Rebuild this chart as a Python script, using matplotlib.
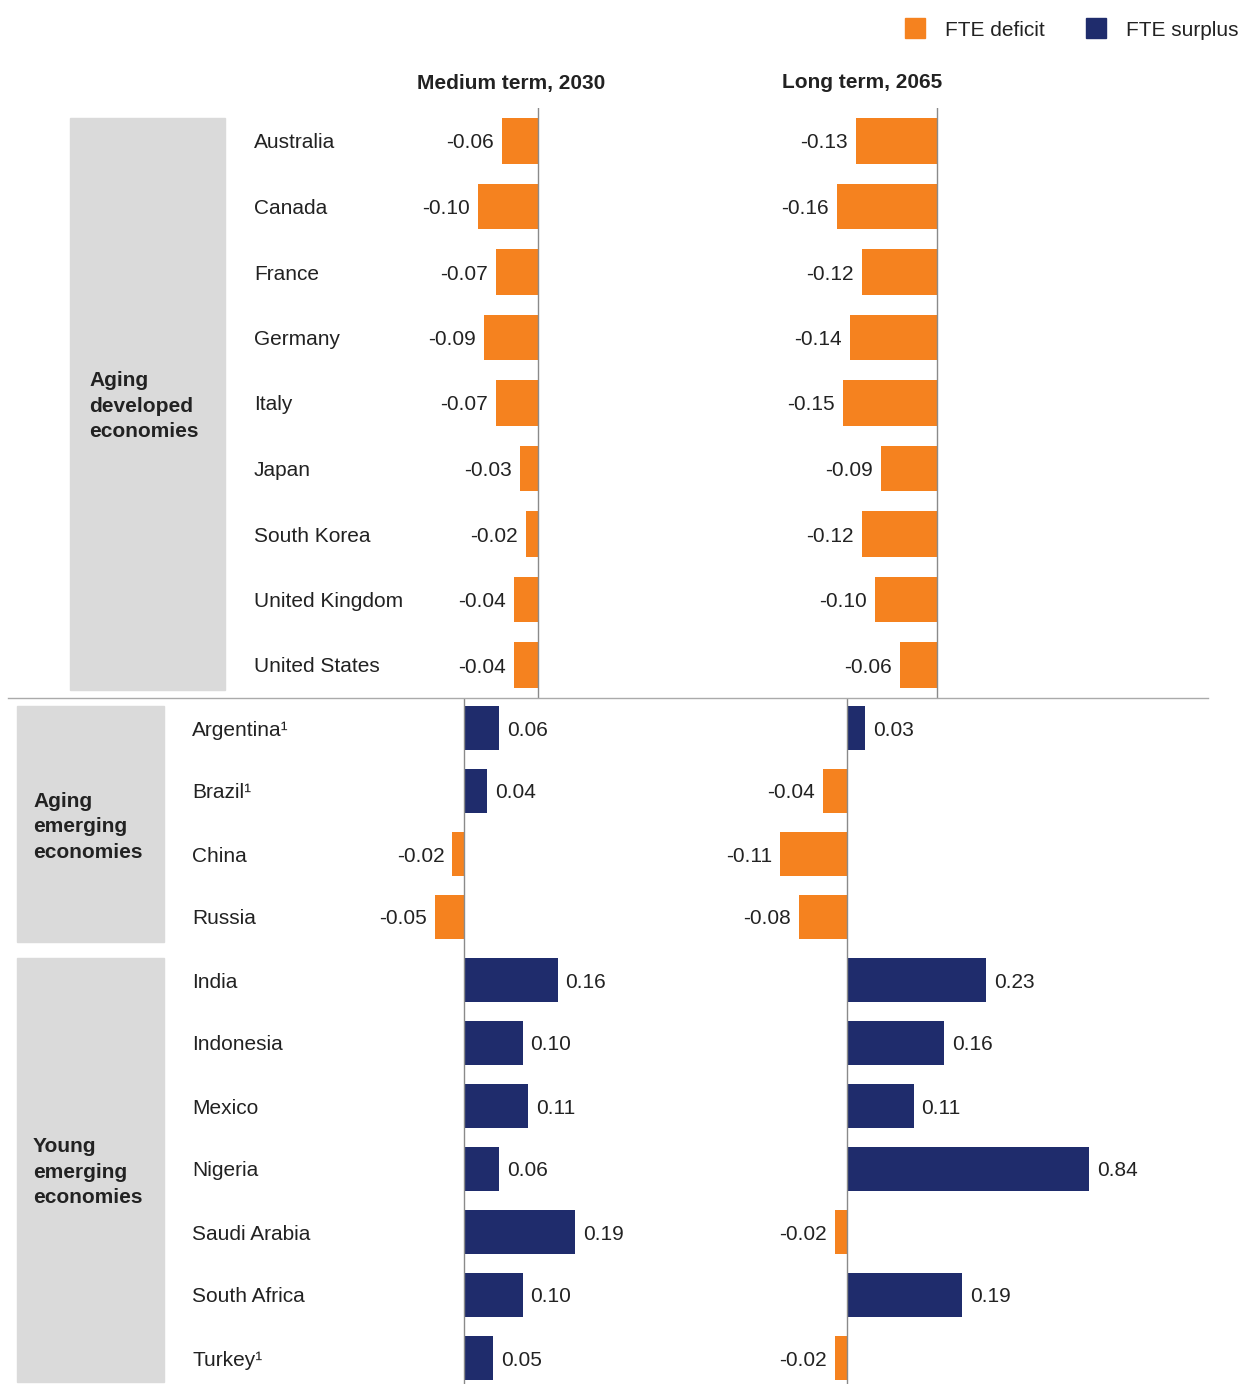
import matplotlib.pyplot as plt
from matplotlib.patches import Rectangle

W, H = 1244, 1384
ORANGE = "#F5821F"
NAVY = "#1F2C6C"
GREY_BOX = "#DADADA"
AXIS = "#8A8A8A"
TEXT = "#222222"
FS = 15

plt.rcParams["font.family"] = ["Liberation Sans", "DejaVu Sans"]

developed = ["Australia", "Canada", "France", "Germany", "Italy", "Japan",
             "South Korea", "United Kingdom", "United States"]
developed_2030 = [-0.06, -0.10, -0.07, -0.09, -0.07, -0.03, -0.02, -0.04, -0.04]
developed_2065 = [-0.13, -0.16, -0.12, -0.14, -0.15, -0.09, -0.12, -0.10, -0.06]

emerging = ["Argentina¹", "Brazil¹", "China", "Russia",
            "India", "Indonesia", "Mexico", "Nigeria", "Saudi Arabia",
            "South Africa", "Turkey¹"]
emerging_2030 = [0.06, 0.04, -0.02, -0.05, 0.16, 0.10, 0.11, 0.06, 0.19, 0.10, 0.05]
emerging_2065 = [0.03, -0.04, -0.11, -0.08, 0.23, 0.16, 0.11, 0.84, -0.02, 0.19, -0.02]

groups = ["Aging\ndeveloped\neconomies", "Aging\nemerging\neconomies",
          "Young\nemerging\neconomies"]
headers = ["Medium term, 2030", "Long term, 2065"]
legend_labels = ["FTE deficit", "FTE surplus"]

fig = plt.figure(figsize=(W / 100, H / 100), dpi=100)


def fx(x):
    return x / W


def fy(y):
    return 1 - y / H


def panel(values, zero_px, px_per_unit, left, right, top_row, step, top, bottom):
    """Bar panel placed in pixel space; zero line at zero_px."""
    ax = fig.add_axes([fx(left), fy(bottom), (right - left) / W, (bottom - top) / H])
    ax.set_xlim((left - zero_px) / px_per_unit, (right - zero_px) / px_per_unit)
    ax.set_ylim((bottom - top_row) / step, (top - top_row) / step)
    ax.axis("off")
    ys = list(range(len(values)))
    colors = [ORANGE if v < 0 else NAVY for v in values]
    ax.barh(ys, values, height=0.69, color=colors)
    ax.axvline(0, color=AXIS, lw=1)
    xmax = ax.get_xlim()[1]
    off = 8 / px_per_unit
    dy = 2 / step  # nudge labels down a touch
    for y, v in zip(ys, values):
        end = min(v, xmax)
        if v < 0:
            ax.text(end - off, y + dy, f"{v:.2f}", ha="right", va="center",
                    fontsize=FS, color=TEXT, clip_on=False)
        else:
            ax.text(end + off, y + dy, f"{v:.2f}", ha="left", va="center",
                    fontsize=FS, color=TEXT, clip_on=False)
    return ax


# top block: aging developed economies
panel(developed_2030, 538, 600, 380, 720, 141, 65.5, 108, 698)
panel(developed_2065, 937, 625, 740, 1100, 141, 65.5, 108, 698)
# bottom block: emerging economies (long-term axis clipped at the right)
panel(emerging_2030, 464, 585, 330, 720, 728, 63, 698, 1384)
panel(emerging_2065, 847, 605, 700, 1089, 728, 63, 698, 1384)

# grey group boxes
for x0, y0, x1, y1 in [(70, 118, 225, 690), (17, 706, 164, 942), (17, 958, 164, 1382)]:
    fig.patches.append(Rectangle((fx(x0), fy(y1)), (x1 - x0) / W, (y1 - y0) / H,
                                 transform=fig.transFigure, color=GREY_BOX, zorder=0))

for label, x, y in zip(groups, [89, 33, 33], [406, 827, 1172]):
    fig.text(fx(x), fy(y), label, ha="left", va="center", fontsize=FS,
             fontweight="bold", color=TEXT, linespacing=1.45)

for i, name in enumerate(developed):
    fig.text(fx(254), fy(143 + 65.5 * i), name, ha="left", va="center",
             fontsize=FS, color=TEXT)
for i, name in enumerate(emerging):
    fig.text(fx(192), fy(730 + 63 * i), name, ha="left", va="center",
             fontsize=FS, color=TEXT)

# separator between the two blocks
fig.add_artist(plt.Line2D([fx(8), fx(1208)], [fy(698), fy(698)],
                          color="#AAAAAA", lw=1))

for text, x in zip(headers, [511, 862]):
    fig.text(fx(x), fy(83), text, ha="center", va="center", fontsize=FS,
             fontweight="bold", color=TEXT)

# legend
for color, label, x in zip([ORANGE, NAVY], legend_labels, [905, 1086]):
    fig.patches.append(Rectangle((fx(x), fy(38)), 20 / W, 20 / H,
                                 transform=fig.transFigure, color=color))
    fig.text(fx(x + 40), fy(30), label, ha="left", va="center",
             fontsize=FS, color=TEXT)

fig.savefig("out.png", dpi=100)
